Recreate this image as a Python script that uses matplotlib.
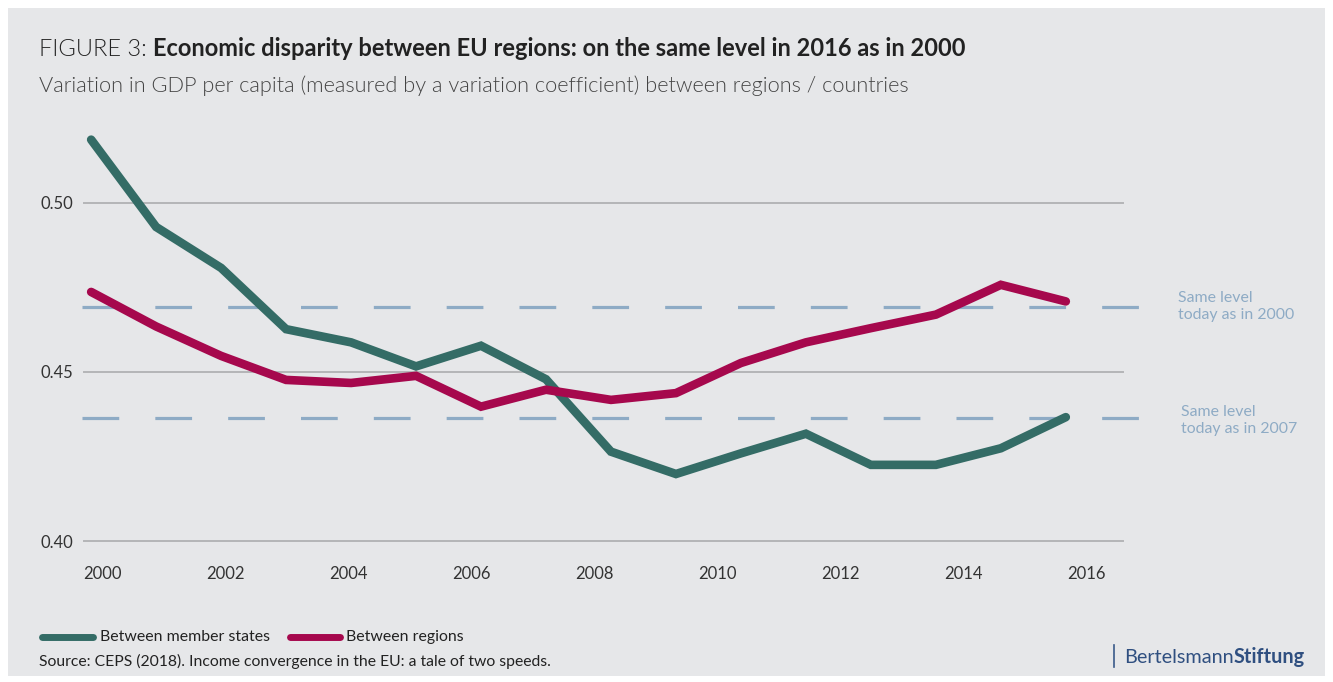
import numpy as np
import matplotlib
matplotlib.use("Agg")
import matplotlib.pyplot as plt
from matplotlib.patches import Rectangle

years = np.arange(2000, 2016)
member_states = [0.5186, 0.4928, 0.4807, 0.4626, 0.4587, 0.4516, 0.4577, 0.4478,
                 0.4264, 0.4198, 0.4259, 0.4317, 0.4225, 0.4225, 0.4274, 0.4366]
regions = [0.4736, 0.4634, 0.4547, 0.4476, 0.4467, 0.4488, 0.4397, 0.4447,
           0.4417, 0.4437, 0.4526, 0.4587, 0.4629, 0.4669, 0.4757, 0.4708]
level_2000 = 0.4691
level_2007 = 0.4363
tick_labels = ["2000", "2002", "2004", "2006", "2008", "2010", "2012", "2014", "2016"]
y_ticks = [0.40, 0.45, 0.50]

BG = "#e6e7e9"
GREEN = "#346c66"
RED = "#a6084d"
DASH = "#8eabc5"
TXT = "#333333"

plt.rcParams["font.family"] = ["Lato", "DejaVu Sans"]

W, H = 1333, 682
fig = plt.figure(figsize=(W / 100, H / 100), dpi=100)
fig.patch.set_facecolor("white")
fig.add_artist(Rectangle((8 / W, 6 / H), 1317 / W, 668 / H, transform=fig.transFigure,
                         facecolor=BG, edgecolor="none", zorder=-10))

# axes box in pixel terms: x 84..1123, y 118..541
ax = fig.add_axes([84 / W, (H - 541) / H, (1123 - 84) / W, (541 - 118) / H])
ax.set_facecolor("none")
ax.set_xlim(1999.89, 2015.88)
ax.set_ylim(0.40, 0.525)
for s in ax.spines.values():
    s.set_visible(False)

for v in y_ticks:
    ax.axhline(v, color="#b4b5b7", lw=1.4, zorder=1, clip_on=False)
for v in (level_2000, level_2007):
    ax.axhline(v, xmin=-0.002, xmax=1.043, color=DASH, lw=2.3, dashes=(11.5, 11.3),
               zorder=2, clip_on=False)

ax.plot(years, member_states, color=GREEN, lw=6.2, solid_capstyle="round",
        solid_joinstyle="miter", zorder=3)
ax.plot(years, regions, color=RED, lw=6.2, solid_capstyle="round",
        solid_joinstyle="miter", zorder=4)

ax.set_yticks(y_ticks)
ax.set_yticklabels([f"{v:.2f}" for v in y_ticks])
ax.set_xticks(np.linspace(2000.18, 2015.32, len(tick_labels)))
ax.set_xticklabels(tick_labels)
ax.tick_params(length=0, labelsize=12, labelcolor=TXT)
ax.tick_params(axis="y", pad=8)
ax.tick_params(axis="x", pad=18)

ax.text(1.053, level_2000 + 0.0003, "Same level\ntoday as in 2000", transform=ax.get_yaxis_transform(),
        color=DASH, fontsize=11.4, va="center", ha="left", linespacing=1.3)
ax.text(1.056, level_2007 - 0.0007, "Same level\ntoday as in 2007", transform=ax.get_yaxis_transform(),
        color=DASH, fontsize=11.4, va="center", ha="left", linespacing=1.3)

renderer = fig.canvas.get_renderer()


def run_text(x, y, parts, size, color):
    # draw consecutive text pieces with different weights on one baseline
    for txt, weight in parts:
        t = fig.text(x / W, 1 - y / H, txt, fontsize=size, fontweight=weight,
                     color=color, va="baseline", ha="left")
        bb = t.get_window_extent(renderer=renderer)
        x += bb.width


run_text(39, 56, [("FIGURE 3: ", 300),
                  ("Economic disparity between EU regions: on the same level in 2016 as in 2000", "bold")],
         17.05, "#222222")
run_text(39, 92, [("Variation in GDP per capita (measured by a variation coefficient) between regions / countries", 300)],
         15.7, "#444444")

# legend
fig.add_artist(plt.Line2D([42 / W, 93 / W], [1 - 637 / H] * 2, color=GREEN, lw=5,
                          solid_capstyle="round"))
fig.text(100 / W, 1 - 637 / H, "Between member states", fontsize=11.4, color="#222222", va="center")
fig.add_artist(plt.Line2D([290 / W, 340 / W], [1 - 637 / H] * 2, color=RED, lw=5,
                          solid_capstyle="round"))
fig.text(346 / W, 1 - 637 / H, "Between regions", fontsize=11.4, color="#222222", va="center")
fig.text(39 / W, 1 - 661 / H, "Source: CEPS (2018). Income convergence in the EU: a tale of two speeds.",
         fontsize=11.3, color="#222222", va="center")

# logo
fig.add_artist(plt.Line2D([1114 / W, 1114 / W], [1 - 645 / H, 1 - 667 / H], color="#3a5a8a", lw=1.2))
run_text(1124, 663, [("Bertelsmann", "normal"), ("Stiftung", "bold")], 14.3, "#2f4f80")

fig.savefig("out.png", dpi=100, facecolor=fig.get_facecolor())
